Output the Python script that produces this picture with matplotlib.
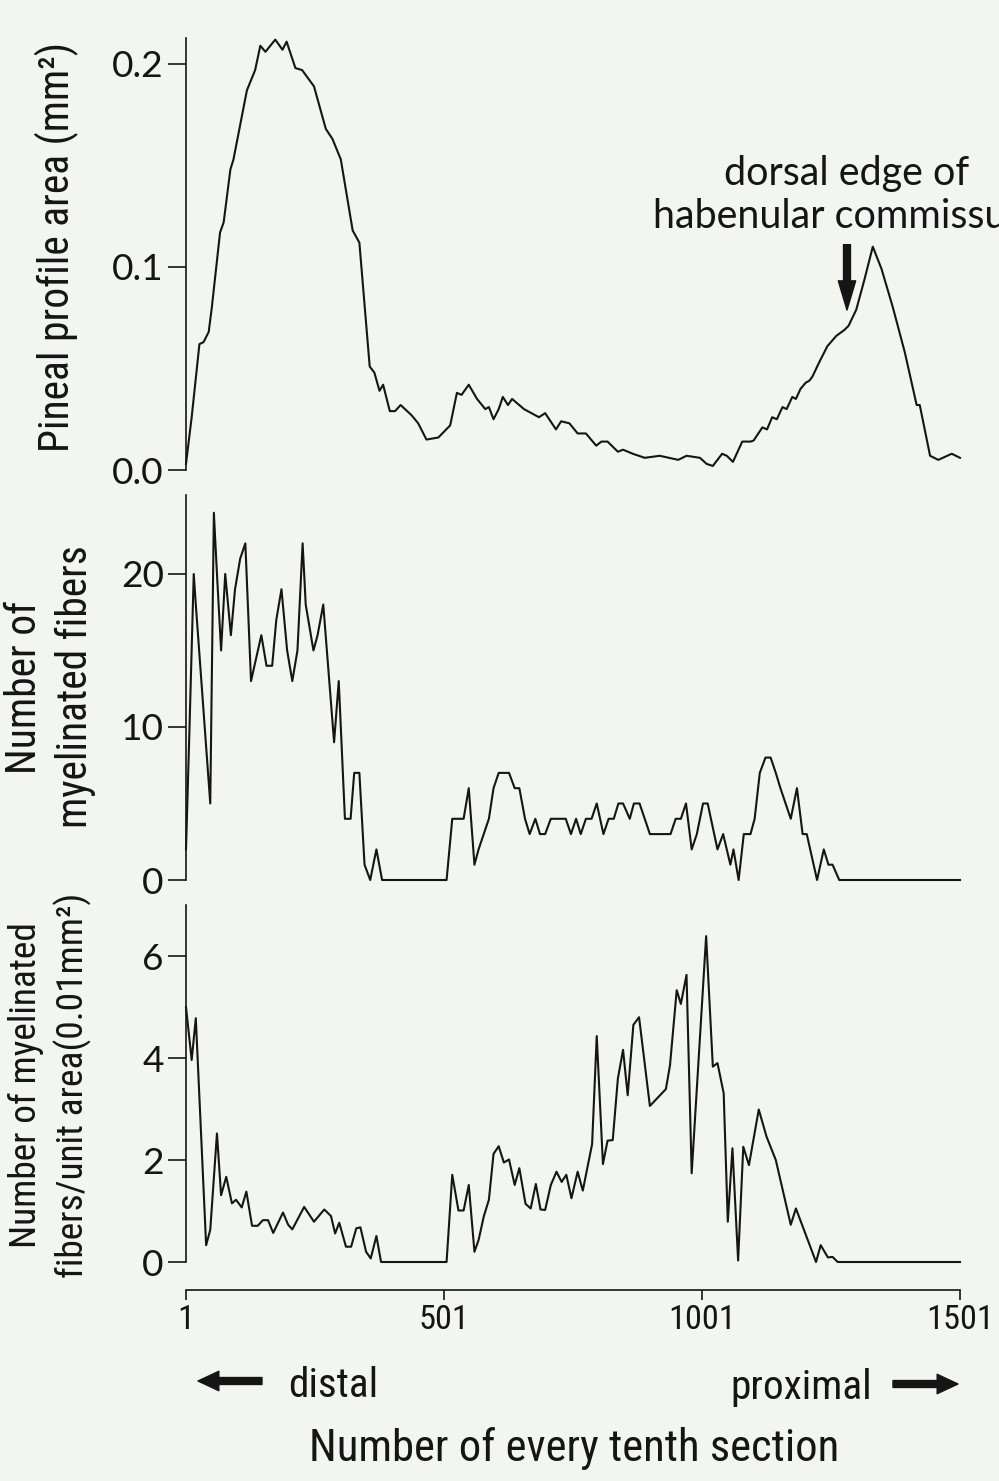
import matplotlib
matplotlib.use('Agg')
import matplotlib.pyplot as plt
from matplotlib import font_manager
from matplotlib.patches import FancyArrowPatch

# ---------------- fonts ----------------
_fl = font_manager.fontManager.ttflist
_names = {f.name for f in _fl}
NARROW = dict(family='Roboto')
for cand in ['Liberation Sans Narrow', 'Roboto Condensed', 'Open Sans Condensed',
             'Noto Sans Condensed', 'Arial Narrow']:
    if cand in _names:
        NARROW = dict(family=cand)
        break
else:
    for f in _fl:
        if 'condensed' in str(f.stretch).lower() and f.name in ('DejaVu Sans', 'Noto Sans',
                                                                 'Open Sans', 'Roboto'):
            NARROW = dict(family=f.name, stretch='condensed')
            break
ROUND = 'Lato' if 'Lato' in _names else 'DejaVu Sans'
plt.rcParams['font.family'] = [ROUND, 'DejaVu Sans']

# ---------------- data (section number, value) ----------------
area_sec = [1, 12, 27, 35, 45, 51, 67, 74, 87, 93, 119, 135, 145, 155, 174, 188, 196, 213,
            226, 249, 272, 285, 301, 324, 337, 357, 366, 376, 383, 396, 406, 417, 438, 451,
            467, 490, 513, 526, 535, 549, 565, 581, 588, 597, 607, 615, 625, 633, 656, 685,
            697, 718, 728, 744, 760, 776, 796, 806, 818, 838, 848, 867, 890, 919, 955, 971,
            997, 1010, 1022, 1040, 1049, 1061, 1079, 1095, 1101, 1118, 1127, 1137, 1146,
            1157, 1165, 1176, 1183, 1192, 1202, 1209, 1215, 1228, 1244, 1261, 1277, 1285,
            1300, 1316, 1332, 1349, 1371, 1394, 1417, 1423, 1443, 1459, 1485, 1501]
area_val = [0.003, 0.026, 0.062, 0.063, 0.068, 0.080, 0.117, 0.122, 0.148, 0.153, 0.187,
            0.197, 0.209, 0.206, 0.212, 0.207, 0.211, 0.198, 0.197, 0.189, 0.168, 0.163,
            0.153, 0.118, 0.112, 0.051, 0.048, 0.039, 0.042, 0.029, 0.029, 0.032, 0.027,
            0.023, 0.015, 0.016, 0.022, 0.038, 0.037, 0.042, 0.035, 0.030, 0.031, 0.025,
            0.030, 0.036, 0.032, 0.035, 0.030, 0.026, 0.028, 0.020, 0.024, 0.023, 0.018,
            0.018, 0.012, 0.014, 0.014, 0.009, 0.010, 0.008, 0.006, 0.007, 0.005, 0.007,
            0.006, 0.003, 0.002, 0.008, 0.007, 0.004, 0.014, 0.014, 0.0145, 0.021, 0.020,
            0.026, 0.025, 0.031, 0.030, 0.036, 0.035, 0.040, 0.043, 0.044, 0.046, 0.053,
            0.061, 0.066, 0.069, 0.071, 0.079, 0.094, 0.110, 0.099, 0.080, 0.058, 0.032,
            0.032, 0.007, 0.005, 0.008, 0.006]

fiber_sec = [1, 7, 16, 20, 48, 55, 61, 69, 77, 88, 96, 106, 116, 127, 147, 157, 168, 176,
             186, 197, 207, 217, 227, 233, 248, 256, 267, 288, 297, 309, 320, 327, 337, 347,
             358, 370, 381, 506, 517, 539, 549, 560, 568, 588, 597, 607, 627, 638, 647, 658,
             667, 678, 687, 697, 708, 737, 747, 757, 766, 776, 787, 797, 810, 820, 830, 839,
             848, 861, 869, 880, 900, 940, 950, 960, 970, 981, 991, 1003, 1012, 1031, 1042,
             1056, 1062, 1072, 1082, 1095, 1103, 1113, 1124, 1134, 1144, 1153, 1163, 1173,
             1185, 1196, 1204, 1224, 1237, 1246, 1254, 1267, 1501]
fiber_val = [2, 9, 20, 18, 5, 24, 20, 15, 20, 16, 19, 21, 22, 13, 16, 14, 14, 17, 19, 15, 13,
             15, 22, 18, 15, 16, 18, 9, 13, 4, 4, 7, 7, 1, 0, 2, 0, 0, 4, 4, 6, 1, 2, 4, 6, 7,
             7, 6, 6, 4, 3, 4, 3, 3, 4, 4, 3, 4, 3, 4, 4, 5, 3, 4, 4, 5, 5, 4, 5, 5, 3, 3, 4,
             4, 5, 2, 3, 5, 5, 2, 3, 1, 2, 0, 3, 3, 4, 7, 8, 8, 7, 6, 5, 4, 6, 3, 3, 0, 2, 1,
             1, 0, 0]

dens_sec = [1, 12, 20, 40, 48, 61, 69, 79, 90, 98, 109, 118, 129, 140, 150, 160, 170, 189,
            199, 207, 230, 249, 269, 282, 290, 298, 311, 321, 331, 339, 350, 359, 370, 379,
            506, 517, 529, 539, 549, 560, 568, 578, 588, 597, 607, 617, 627, 638, 647, 659,
            669, 679, 688, 697, 708, 719, 729, 738, 748, 760, 770, 788, 797, 809, 818, 828,
            838, 848, 857, 868, 879, 900, 931, 939, 952, 960, 971, 981, 1009, 1022, 1031,
            1043, 1051, 1060, 1071, 1081, 1092, 1111, 1126, 1144, 1173, 1183, 1222, 1231,
            1245, 1254, 1264, 1501]
dens_val = [5.0, 3.96, 4.78, 0.33, 0.63, 2.52, 1.31, 1.67, 1.15, 1.22, 1.07, 1.38, 0.71,
            0.71, 0.82, 0.82, 0.57, 0.97, 0.73, 0.64, 1.08, 0.79, 1.03, 0.90, 0.56, 0.77,
            0.30, 0.30, 0.66, 0.68, 0.20, 0.07, 0.51, 0.0, 0.0, 1.71, 1.01, 1.01, 1.51,
            0.20, 0.43, 0.89, 1.22, 2.12, 2.27, 1.95, 2.01, 1.51, 1.84, 1.14, 1.05, 1.53,
            1.03, 1.02, 1.51, 1.77, 1.57, 1.71, 1.25, 1.77, 1.40, 2.31, 4.43, 1.92, 2.38,
            2.39, 3.60, 4.16, 3.27, 4.65, 4.80, 3.06, 3.39, 3.86, 5.33, 5.06, 5.63, 1.74,
            6.39, 3.83, 3.90, 3.31, 0.79, 2.23, 0.03, 2.26, 1.90, 2.99, 2.46, 2.00, 0.73,
            1.05, 0.0, 0.33, 0.09, 0.10, 0.0, 0.0]

x_ticks = [1, 501, 1001, 1501]
area_ticks = [0.0, 0.1, 0.2]
area_ticklabels = ['0.0', '0.1', '0.2']
fiber_ticks = [0, 10, 20]
dens_ticks = [0, 2, 4, 6]

# ---------------- layout ----------------
W, H = 999, 1481
BG = '#f3f5f1'
INK = '#151515'
fig = plt.figure(figsize=(W / 100, H / 100), dpi=100, facecolor=BG)

left = 186 / W
width = (960 - 186) / W


def make_ax(top_px, bottom_px):
    ax = fig.add_axes([left, 1 - bottom_px / H, width, (bottom_px - top_px) / H])
    ax.set_facecolor('none')
    for s in ['top', 'right', 'bottom']:
        ax.spines[s].set_visible(False)
    ax.spines['left'].set_linewidth(1.2)
    ax.spines['left'].set_color(INK)
    ax.set_xlim(1, 1501)
    ax.tick_params(axis='y', direction='out', length=13, width=1.2, pad=3,
                   colors=INK, labelsize=24)
    ax.tick_params(axis='x', bottom=False, labelbottom=False)
    return ax


ax1 = make_ax(38, 470)
ax2 = make_ax(495, 880)
ax3 = make_ax(905, 1262)

lw = 1.5
ax1.plot(area_sec, area_val, color=INK, lw=lw, clip_on=False)
ax2.plot(fiber_sec, fiber_val, color=INK, lw=lw, clip_on=False)
ax3.plot(dens_sec, dens_val, color=INK, lw=lw, clip_on=False)

ax1.set_ylim(0, 0.2128)
ax2.set_ylim(0, 25.16)
ax3.set_ylim(0, 7.0)

ax1.set_yticks(area_ticks)
ax1.set_yticklabels(area_ticklabels)
ax2.set_yticks(fiber_ticks)
ax3.set_yticks(dens_ticks)

# bottom x axis (offset)
ax3.spines['bottom'].set_visible(True)
ax3.spines['bottom'].set_position(('outward', 20))
ax3.spines['bottom'].set_bounds(1, 1501)
ax3.spines['bottom'].set_linewidth(1.2)
ax3.spines['bottom'].set_color(INK)
ax3.set_xticks(x_ticks)
ax3.set_xticklabels([str(t) for t in x_ticks])
ax3.tick_params(axis='x', bottom=True, labelbottom=True, direction='out', length=7,
                width=1.2, pad=3, colors=INK, labelsize=26)

# annotation in top panel
ax1.add_patch(FancyArrowPatch((1282, 0.111), (1282, 0.0788),
                              arrowstyle='simple,tail_width=0.5,head_width=1.25,head_length=2.1',
                              mutation_scale=10, color=INK, shrinkA=0, shrinkB=0,
                              clip_on=False))
t_annot = ax1.text(1282, 0.1192, 'dorsal edge of\nhabenular commissure', ha='center',
                   va='baseline', fontsize=28, family=ROUND, linespacing=1.2, color=INK,
                   clip_on=False)

# axis labels
t_y1 = fig.text(57 / W, 1 - 247 / H, 'Pineal profile area (mm²)', rotation=90, ha='center',
                va='center', fontsize=26, color=INK, **NARROW)
t_y2 = fig.text(50 / W, 1 - 687 / H, 'Number of\nmyelinated fibers', rotation=90, ha='center',
                va='center', fontsize=26, linespacing=1.3, color=INK, **NARROW)
t_y3 = fig.text(50 / W, 1 - 1085 / H, 'Number of myelinated\nfibers/unit area(0.01mm²)',
                rotation=90, ha='center', va='center', fontsize=26, linespacing=1.3,
                color=INK, **NARROW)
t_xl = fig.text(574 / W, 1 - 1448 / H, 'Number of every tenth section', ha='center',
                va='center', fontsize=28, color=INK, **NARROW)

# direction hints
t_d = fig.text(288 / W, 1 - 1397 / H, 'distal', ha='left', va='baseline', fontsize=28,
               color=INK, **NARROW)
t_p = fig.text(872 / W, 1 - 1399 / H, 'proximal', ha='right', va='baseline', fontsize=28,
               color=INK, **NARROW)
arrow_style = 'simple,tail_width=0.5,head_width=1.4,head_length=1.5'
fig.add_artist(FancyArrowPatch((262 / W, 1 - 1381 / H), (198 / W, 1 - 1381 / H),
                               transform=fig.transFigure, arrowstyle=arrow_style,
                               mutation_scale=10, color=INK, shrinkA=0, shrinkB=0))
fig.add_artist(FancyArrowPatch((893 / W, 1 - 1384 / H), (958 / W, 1 - 1384 / H),
                               transform=fig.transFigure, arrowstyle=arrow_style,
                               mutation_scale=10, color=INK, shrinkA=0, shrinkB=0))

# ---------------- fit text sizes to the reference extents ----------------
fig.canvas.draw()
R = fig.canvas.get_renderer()


def fit(t, target, vertical=False):
    bb = t.get_window_extent(R)
    cur = bb.height if vertical else bb.width
    if cur > 0:
        t.set_fontsize(t.get_fontsize() * target / cur)


fit(t_y1, 410, vertical=True)
ysz = t_y1.get_fontsize()
t_y2.set_fontsize(ysz)
t_y3.set_fontsize(ysz)
if t_y3.get_window_extent(R).height > 385:
    fit(t_y3, 385, vertical=True)
fit(t_xl, 530)
fit(t_d, 90)
fit(t_p, 142)

# x tick labels: narrow font, "1501" about 68 px wide
for lab in ax3.get_xticklabels():
    lab.set(**NARROW)
fig.canvas.draw()
lab = ax3.get_xticklabels()[-1]
w = lab.get_window_extent(R).width
xsize = 26 * 68 / w if w > 0 else 26
ax3.tick_params(axis='x', labelsize=xsize)
for lab in ax3.get_xticklabels():
    lab.set(**NARROW)

# y tick labels: "0.2" about 52 px wide
lab = ax1.get_yticklabels()[-1]
w = lab.get_window_extent(R).width
ysize = 24 * 52 / w if w > 0 else 24
for ax in (ax1, ax2, ax3):
    ax.tick_params(axis='y', labelsize=ysize)

# annotation: first line about 246 px wide
first = ax1.text(0, 0, 'dorsal edge of', fontsize=28, family=ROUND)
w = first.get_window_extent(R).width
first.remove()
t_annot.set_fontsize(28 * 246 / w if w > 0 else 28)

fig.savefig('out.png', dpi=100, facecolor=BG)
